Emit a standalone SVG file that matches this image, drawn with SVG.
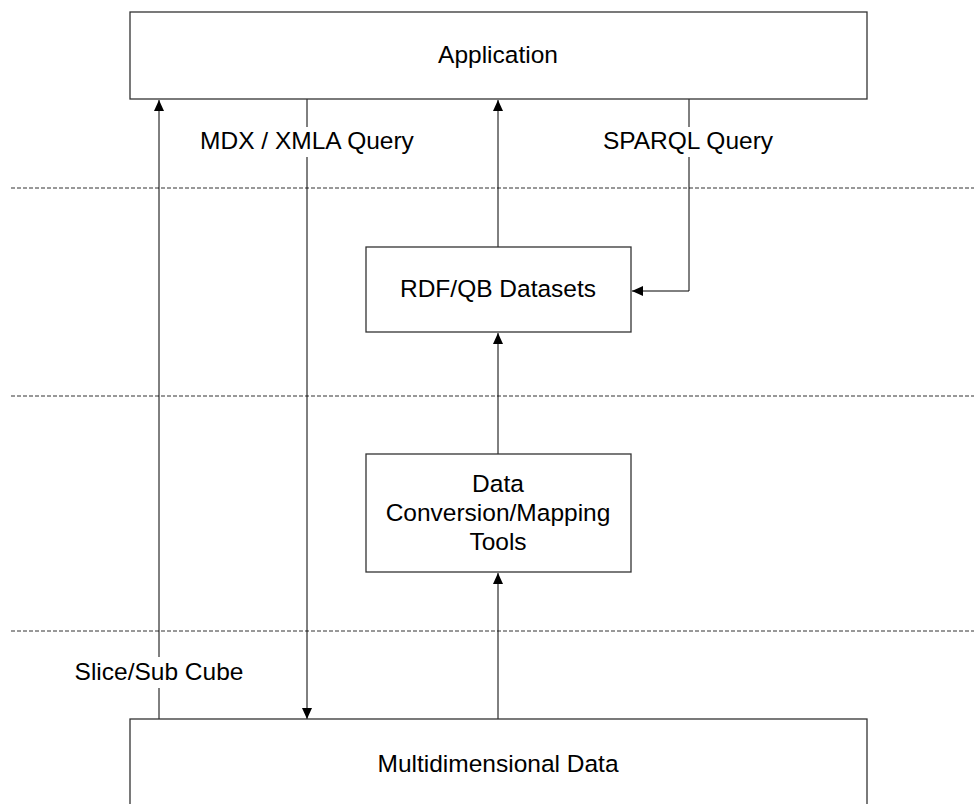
<svg xmlns="http://www.w3.org/2000/svg" width="974" height="804" viewBox="0 0 974 804">
  <style>
    .box { fill: #ffffff; stroke: #333333; stroke-width: 1.3; }
    .lbl { font-family: "Liberation Sans", Arial, sans-serif; font-size: 24.5px; fill: #000000; text-anchor: middle; }
    .wire { fill: none; stroke: #000000; stroke-width: 1; }
    .sep { fill: none; stroke: #333333; stroke-width: 1; stroke-dasharray: 4 2; }
    .bg { fill: #ffffff; stroke: none; }
  </style>
  <defs>
    <marker id="head" viewBox="0 0 11 10" refX="11" refY="5" markerWidth="11" markerHeight="10" markerUnits="userSpaceOnUse" orient="auto">
      <path d="M0,0 L11,5 L0,10 Z" fill="#000000"/>
    </marker>
  </defs>

  <rect width="974" height="804" fill="#ffffff"/>

  <!-- layer separators -->
  <g id="separators">
    <line class="sep" x1="11" y1="188" x2="974" y2="188"/>
    <line class="sep" x1="11" y1="396" x2="974" y2="396"/>
    <line class="sep" x1="11" y1="631" x2="974" y2="631"/>
  </g>

  <!-- connectors -->
  <g id="connectors">
    <line class="wire" x1="159" y1="719" x2="159" y2="100" marker-end="url(#head)"/>
    <line class="wire" x1="307" y1="99" x2="307" y2="719" marker-end="url(#head)"/>
    <line class="wire" x1="498" y1="247" x2="498" y2="100" marker-end="url(#head)"/>
    <polyline class="wire" points="689,99 689,291 632,291" marker-end="url(#head)"/>
    <line class="wire" x1="498" y1="454" x2="498" y2="333" marker-end="url(#head)"/>
    <line class="wire" x1="498" y1="719" x2="498" y2="573" marker-end="url(#head)"/>

    <!-- edge labels -->
    <g id="label-mdx">
      <rect class="bg" x="200" y="127" width="214" height="30"/>
      <text class="lbl" x="307" y="149">MDX / XMLA Query</text>
    </g>
    <g id="label-sparql">
      <rect class="bg" x="601" y="127" width="174" height="30"/>
      <text class="lbl" x="688" y="149">SPARQL Query</text>
    </g>
    <g id="label-slice">
      <rect class="bg" x="73" y="657" width="172" height="31"/>
      <text class="lbl" x="159" y="680">Slice/Sub Cube</text>
    </g>
  </g>

  <!-- nodes -->
  <g id="application">
    <rect class="box" x="130" y="12" width="737" height="87"/>
    <text class="lbl" x="498" y="63">Application</text>
  </g>

  <g id="rdf-qb-datasets">
    <rect class="box" x="366" y="247" width="265" height="85"/>
    <text class="lbl" x="498" y="297">RDF/QB Datasets</text>
  </g>

  <g id="conversion-tools">
    <rect class="box" x="366" y="454" width="265" height="118"/>
    <text class="lbl" x="498" y="492">Data</text>
    <text class="lbl" x="498" y="521">Conversion/Mapping</text>
    <text class="lbl" x="498" y="550">Tools</text>
  </g>

  <g id="multidimensional-data">
    <rect class="box" x="130" y="719" width="737" height="100"/>
    <text class="lbl" x="498" y="772">Multidimensional Data</text>
  </g>
</svg>
